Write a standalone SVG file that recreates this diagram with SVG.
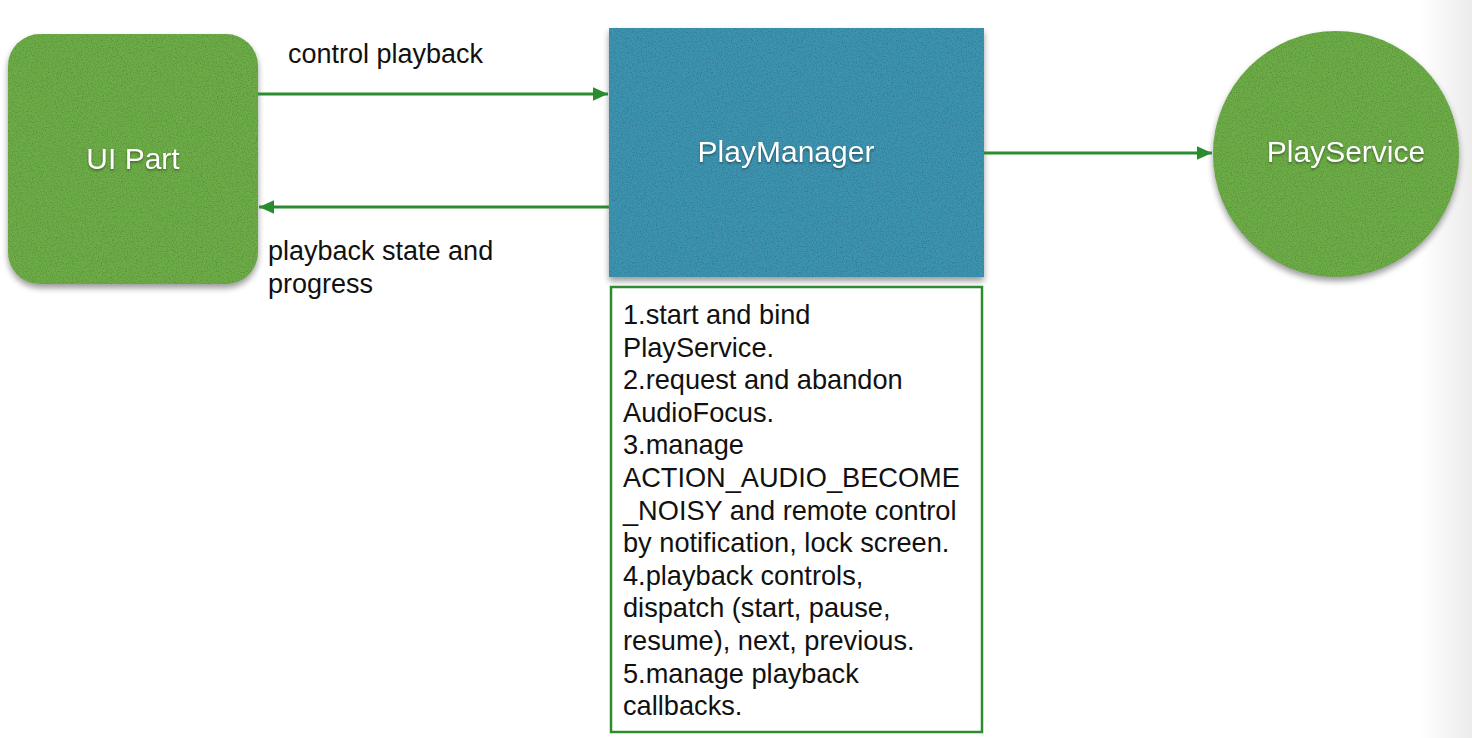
<svg xmlns="http://www.w3.org/2000/svg" width="1472" height="738" viewBox="0 0 1472 738">
  <defs>
    <linearGradient id="edge" x1="0" y1="0" x2="1" y2="0">
      <stop offset="0" stop-color="#ffffff"/>
      <stop offset="1" stop-color="#ececec"/>
    </linearGradient>
    <filter id="tex" x="-10%" y="-10%" width="125%" height="130%" color-interpolation-filters="sRGB">
      <feTurbulence type="fractalNoise" baseFrequency="0.8" numOctaves="2" seed="3" result="noise"/>
      <feColorMatrix in="noise" type="matrix" values="0 0 0 0 0  0 0 0 0 0  0 0 0 0 0  0 0 0 0.45 -0.2" result="dark"/>
      <feComposite in="dark" in2="SourceGraphic" operator="in" result="darkIn"/>
      <feMerge result="textured">
        <feMergeNode in="SourceGraphic"/>
        <feMergeNode in="darkIn"/>
      </feMerge>
      <feGaussianBlur in="SourceAlpha" stdDeviation="3"/>
      <feOffset dx="0" dy="4" result="sh"/>
      <feComponentTransfer in="sh" result="shadow"><feFuncA type="linear" slope="0.4"/></feComponentTransfer>
      <feMerge>
        <feMergeNode in="shadow"/>
        <feMergeNode in="textured"/>
      </feMerge>
    </filter>
    <filter id="tshadow" x="-10%" y="-30%" width="120%" height="160%" color-interpolation-filters="sRGB">
      <feDropShadow dx="0" dy="1.5" stdDeviation="1" flood-color="#000" flood-opacity="0.4"/>
    </filter>
    <marker id="arr" viewBox="0 0 10 10" refX="10" refY="5" markerWidth="5" markerHeight="4.5" markerUnits="strokeWidth" orient="auto" preserveAspectRatio="none">
      <path d="M0,0 L10,5 L0,10 z" fill="#2a8c2e"/>
    </marker>
  </defs>
  <style>
    .lbl { font-family: "Liberation Sans", Arial, sans-serif; font-size: 27px; fill: #111; }
    .node { font-family: "Liberation Sans", Arial, sans-serif; font-size: 30px; fill: #fff; text-anchor: middle; }
    .conn { stroke: #2a8c2e; stroke-width: 3; fill: none; marker-end: url(#arr); }
    .box { font-family: "Liberation Sans", Arial, sans-serif; font-size: 27.2px; fill: #111; }
  </style>
  <rect width="1472" height="738" fill="#ffffff"/>
  <rect x="1420" y="0" width="52" height="738" fill="url(#edge)"/>

  <g id="ui-part">
    <rect x="8" y="34" width="250" height="250" rx="32" ry="32" fill="#6dad47" filter="url(#tex)"/>
    <text class="node" x="133" y="169" filter="url(#tshadow)">UI Part</text>
  </g>

  <g id="play-manager">
    <rect x="609" y="28" width="375" height="249" fill="#3d94b1" filter="url(#tex)"/>
    <text class="node" x="786" y="162" filter="url(#tshadow)">PlayManager</text>
  </g>

  <g id="play-service">
    <circle cx="1336" cy="154" r="123" fill="#6dad47" filter="url(#tex)"/>
    <text class="node" x="1346" y="162" filter="url(#tshadow)">PlayService</text>
  </g>

  <g id="responsibilities">
    <rect x="611" y="287" width="371" height="445" fill="#ffffff" stroke="#2e8b2e" stroke-width="2.5"/>
    <text class="box" x="623">
      <tspan x="623" y="324">1.start and bind</tspan>
      <tspan x="623" y="356.6">PlayService.</tspan>
      <tspan x="623" y="389.2">2.request and abandon</tspan>
      <tspan x="623" y="421.8">AudioFocus.</tspan>
      <tspan x="623" y="454.4">3.manage</tspan>
      <tspan x="623" y="487">ACTION_AUDIO_BECOME</tspan>
      <tspan x="623" y="519.6">_NOISY and remote control</tspan>
      <tspan x="623" y="552.2">by notification, lock screen.</tspan>
      <tspan x="623" y="584.8">4.playback controls,</tspan>
      <tspan x="623" y="617.4">dispatch (start, pause,</tspan>
      <tspan x="623" y="650">resume), next, previous.</tspan>
      <tspan x="623" y="682.6">5.manage playback</tspan>
      <tspan x="623" y="715.2">callbacks.</tspan>
    </text>
  </g>

  <g id="connectors">
    <line class="conn" x1="258" y1="94" x2="608" y2="94"/>
    <line class="conn" x1="609" y1="207" x2="259" y2="207"/>
    <line class="conn" x1="984" y1="153" x2="1212" y2="153"/>
    <text class="lbl" x="288" y="63">control playback</text>
    <text class="lbl" x="268" y="260">playback state and</text>
    <text class="lbl" x="268" y="293">progress</text>
  </g>
</svg>
